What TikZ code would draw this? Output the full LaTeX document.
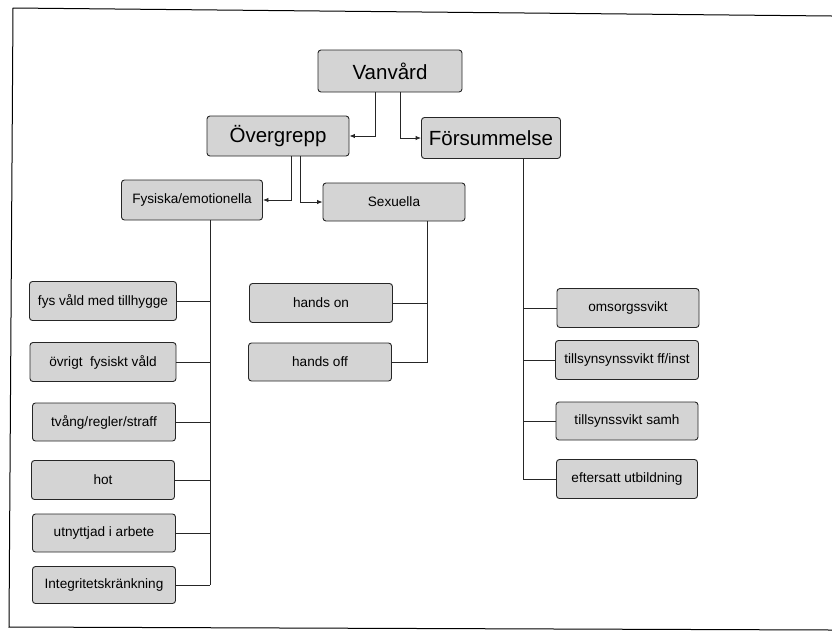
\documentclass[tikz,border=0pt]{standalone}
\usepackage{fontspec}
\setmainfont{Liberation Sans}
\usetikzlibrary{arrows.meta}
\begin{document}
\begin{tikzpicture}[x=1pt,y=-1pt,
  box/.style={draw=black!85,line width=0.9pt,fill=black!17,rounded corners=3pt,inner sep=0pt,anchor=center},
  big/.style={box,font=\fontsize{20.5}{24}\selectfont},
  small/.style={box,font=\fontsize{13.6}{16}\selectfont},
  conn/.style={draw=black!85,line width=0.9pt},
  arr/.style={conn,-{Latex[length=5.5pt,width=4.5pt]}}]
\useasboundingbox (0,0) rectangle (832,641);
% frame
\draw[line width=1pt] (832,16) -- (13,8) -- (9,627) -- (832,630);
% nodes
\node[big,minimum width=144pt,minimum height=42pt] (van) at (390,71) {Vanvård};
\node[big,minimum width=142pt,minimum height=40pt] (ove) at (278,136) {Övergrepp};
\node[big,minimum width=139pt,minimum height=41pt] (for) at (491,138) {Försummelse};
\node[small,minimum width=141pt,minimum height=40pt] (fys) at (192,200) {Fysiska/emotionella};
\node[small,minimum width=142pt,minimum height=38pt] (sex) at (394,202) {Sexuella};
\node[small,minimum width=147pt,minimum height=39pt] (f1) at (103,301) {fys våld med tillhygge};
\node[small,minimum width=146pt,minimum height=39pt] (f2) at (103,362) {övrigt\ \ fysiskt våld};
\node[small,minimum width=143pt,minimum height=38pt] (f3) at (104,422) {tvång/regler/straff};
\node[small,minimum width=143pt,minimum height=39pt] (f4) at (103,480) {hot};
\node[small,minimum width=143pt,minimum height=38pt] (f5) at (104,533) {utnyttjad i arbete};
\node[small,minimum width=143pt,minimum height=37pt] (f6) at (104,585) {Integritetskränkning};
\node[small,minimum width=143pt,minimum height=39pt] (s1) at (321,303) {hands on};
\node[small,minimum width=143pt,minimum height=38pt] (s2) at (320,362) {hands off};
\node[small,minimum width=142pt,minimum height=39pt] (n1) at (628,308) {omsorgssvikt};
\node[small,minimum width=143pt,minimum height=39pt] (n2) at (627,360) {tillsynsynssvikt ff/inst};
\node[small,minimum width=142pt,minimum height=38pt] (n3) at (627,421) {tillsynssvikt samh};
\node[small,minimum width=141pt,minimum height=39pt] (n4) at (627,479) {eftersatt utbildning};
% connectors
\draw[arr] (van.south -| 375,0) |- (ove.east);
\draw[arr] (van.south -| 400,0) |- (for.west);
\draw[arr] (ove.south -| 291,0) |- (fys.east);
\draw[arr] (ove.south -| 300,0) |- (sex.west);
\coordinate (fb) at (210,585);
\draw[conn] (fys.south -| fb) -- (fb);
\foreach \n in {f1,f2,f3,f4,f5,f6} \draw[conn] (\n.east) -- (\n.east -| fb);
\coordinate (sb) at (427,363);
\draw[conn] (sex.south -| sb) -- (sb);
\foreach \n in {s1,s2} \draw[conn] (\n.east) -- (\n.east -| sb);
\coordinate (nb) at (523,480);
\draw[conn] (for.south -| nb) -- (nb);
\foreach \n in {n1,n2,n3,n4} \draw[conn] (\n.west) -- (\n.west -| nb);
\end{tikzpicture}
\end{document}
